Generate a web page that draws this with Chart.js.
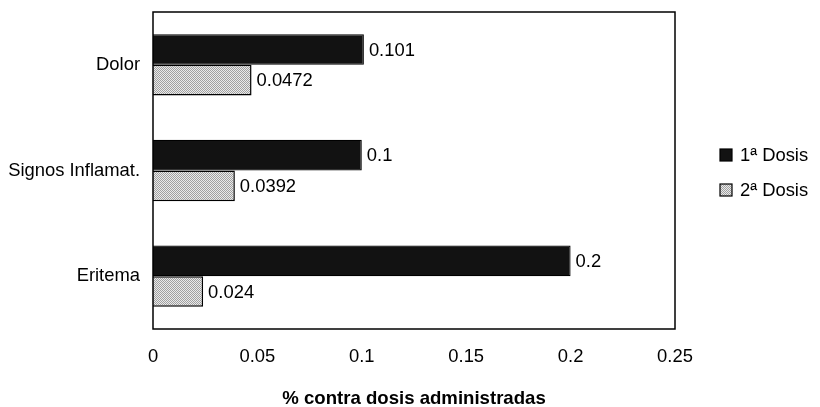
<!DOCTYPE html>
<html>
<head>
<meta charset="utf-8">
<script src="https://cdn.jsdelivr.net/npm/chart.js@4/dist/chart.umd.min.js"></script>
<style>
  html, body { margin: 0; padding: 0; background: #fff; }
  #wrap { width: 820px; height: 407px; position: relative; }
</style>
</head>
<body>
<div id="wrap"><canvas id="c" width="820" height="407"></canvas></div>
<script>
// Categories (top to bottom) and the two dose series
const categories = ['Dolor', 'Signos Inflamat.', 'Eritema'];
const dosis1 = [0.101, 0.1, 0.2];
const dosis2 = [0.0472, 0.0392, 0.024];
const seriesNames = ['1\u00aa Dosis', '2\u00aa Dosis'];
const xTickLabels = ['0', '0.05', '0.1', '0.15', '0.2', '0.25'];
const axisTitle = '% contra dosis administradas';

const FONT = "'Liberation Sans', Arial, sans-serif";
const FS = 18.4;

// Dithered fill for the second series
function makeStipple(a, b) {
  const p = document.createElement('canvas');
  p.width = 2; p.height = 2;
  const g = p.getContext('2d');
  g.fillStyle = a; g.fillRect(0, 0, 2, 2);
  g.fillStyle = b; g.fillRect(0, 0, 1, 1); g.fillRect(1, 1, 1, 1);
  return g.createPattern(p, 'repeat');
}
const ctx0 = document.getElementById('c').getContext('2d');
const grayFill = makeStipple('#eaeaea', '#a0a0a0');
const darkFill = '#121212';

// Value labels just past the end of each bar
const valueLabels = {
  id: 'valueLabels',
  afterDatasetsDraw(chart) {
    const ctx = chart.ctx;
    ctx.save();
    ctx.font = FS + 'px ' + FONT;
    ctx.fillStyle = '#000';
    ctx.textAlign = 'left';
    ctx.textBaseline = 'middle';
    chart.data.datasets.forEach((ds, di) => {
      chart.getDatasetMeta(di).data.forEach((bar, i) => {
        ctx.fillText(String(ds.data[i]), bar.x + 5, bar.y + 1);
      });
    });
    ctx.restore();
  }
};

// Frame around the plot area
const plotFrame = {
  id: 'plotFrame',
  afterDraw(chart) {
    const a = chart.chartArea, ctx = chart.ctx;
    ctx.save();
    ctx.strokeStyle = '#000';
    ctx.lineWidth = 1.5;
    ctx.strokeRect(a.left, a.top, a.right - a.left, a.bottom - a.top);
    ctx.restore();
  }
};

// Legend on the right, boxes plus labels
const sideLegend = {
  id: 'sideLegend',
  afterDraw(chart) {
    const ctx = chart.ctx;
    const x = 720, ys = [155, 190];
    ctx.save();
    chart.data.datasets.forEach((ds, i) => {
      const y = ys[i];
      ctx.fillStyle = ds.backgroundColor;
      ctx.fillRect(x, y - 6, 12, 12);
      ctx.strokeStyle = '#000';
      ctx.lineWidth = 1.2;
      ctx.strokeRect(x, y - 6, 12, 12);
      ctx.fillStyle = '#000';
      ctx.font = FS + 'px ' + FONT;
      ctx.textAlign = 'left';
      ctx.textBaseline = 'middle';
      ctx.fillText(ds.label, x + 20, y + 1);
    });
    ctx.restore();
  }
};

new Chart(ctx0, {
  type: 'bar',
  data: {
    labels: categories,
    datasets: [
      { label: seriesNames[0], data: dosis1, backgroundColor: darkFill,
        borderColor: '#000', borderWidth: 1.2 },
      { label: seriesNames[1], data: dosis2, backgroundColor: grayFill,
        borderColor: '#000', borderWidth: 1.5 }
    ]
  },
  options: {
    indexAxis: 'y',
    responsive: false,
    animation: false,
    devicePixelRatio: 1,
    layout: { padding: { top: 12, right: 145, left: 0, bottom: 0 } },
    datasets: { bar: { categoryPercentage: 0.58, barPercentage: 1.0 } },
    plugins: { legend: { display: false }, tooltip: { enabled: false } },
    scales: {
      x: {
        min: 0, max: 0.25,
        ticks: {
          stepSize: 0.05,
          padding: 17,
          color: '#000',
          font: { family: FONT, size: FS },
          callback: (v, i) => xTickLabels[i]
        },
        grid: { display: false, drawTicks: false },
        border: { display: false },
        title: {
          display: true, text: axisTitle, color: '#000',
          font: { family: FONT, size: 18.6, weight: 'bold', lineHeight: 1 },
          padding: { top: 0, bottom: -1 }
        },
        afterFit(s) { s.height = 78; s.paddingLeft = 0; s.paddingRight = 0; }
      },
      y: {
        ticks: {
          padding: 13,
          color: '#000',
          font: { family: FONT, size: FS }
        },
        grid: { display: false, drawTicks: false },
        border: { display: false },
        afterFit(s) { s.width = 153; s.paddingTop = 0; s.paddingBottom = 0; }
      }
    }
  },
  plugins: [valueLabels, plotFrame, sideLegend]
});
</script>
</body>
</html>
